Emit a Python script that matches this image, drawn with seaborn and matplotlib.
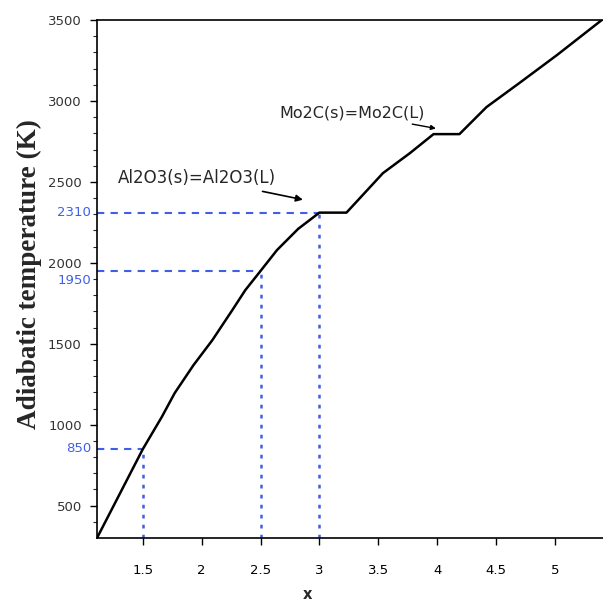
import matplotlib
matplotlib.use("Agg")
import matplotlib.pyplot as plt
import matplotlib.transforms as mtransforms
import seaborn as sns
import pandas as pd

# curve (x, adiabatic temperature in K)
x_vals = [1.11, 1.5, 1.66, 1.77, 1.93, 2.09, 2.26, 2.37, 2.5, 2.64, 2.82, 3.0,
          3.23, 3.54, 3.77, 3.97, 4.19, 4.42, 4.70, 5.02, 5.40]
temp_vals = [300, 850, 1047, 1195, 1368, 1522, 1708, 1831, 1950, 2079, 2210, 2310,
             2310, 2554, 2678, 2795, 2795, 2962, 3111, 3284, 3500]

# marked points with guide lines
mark_x = [1.5, 2.5, 3.0]
mark_t = [850, 1950, 2310]
mark_labels = ["850", "1950", "2310"]

x_ticks = [1.5, 2, 2.5, 3, 3.5, 4, 4.5, 5]
x_ticklabels = ["1.5", "2", "2.5", "3", "3.5", "4", "4.5", "5"]
y_ticks = [500, 1000, 1500, 2000, 2500, 3000, 3500]

BLUE = "#3f5fe6"

sns.set_style("ticks")
plt.rcParams["font.family"] = ["DejaVu Sans"]

fig = plt.figure(figsize=(6.03, 6.05), dpi=100)
ax = fig.add_axes([97 / 603, 1 - 538 / 605, 506 / 603, 518 / 605])

df = pd.DataFrame({"x": x_vals, "T": temp_vals})
sns.lineplot(data=df, x="x", y="T", color="black", linewidth=1.8,
             estimator=None, sort=False, ax=ax)

ax.set_xlim(1.11, 5.41)
ax.set_ylim(300, 3500)

# blue guide lines
for mx, mt in zip(mark_x, mark_t):
    ax.plot([1.11, mx], [mt, mt], color=BLUE, linewidth=1.5,
            linestyle=(0, (3.5, 3)), zorder=1)
    ax.plot([mx, mx], [300, mt], color=BLUE, linewidth=1.8,
            linestyle=(0, (1.5, 2.5)), zorder=1)

trans = mtransforms.blended_transform_factory(ax.transAxes, ax.transData)
offsets = {"850": 0, "1950": -60, "2310": 0}
for mt, lab in zip(mark_t, mark_labels):
    ax.text(-0.012, mt + offsets[lab], lab, transform=trans, ha="right",
            va="center", color=BLUE, fontsize=9.5)

ax.set_xticks(x_ticks)
ax.set_xticklabels(x_ticklabels)
ax.set_yticks(y_ticks)
ax.set_yticks(range(400, 3500, 100), minor=True)
ax.tick_params(axis="x", direction="out", length=5, width=1, pad=14,
               labelsize=9.5, colors="black")
ax.tick_params(axis="y", direction="out", length=5, width=1, pad=6,
               labelsize=9.5, colors="black")
ax.tick_params(axis="y", which="minor", direction="out", length=3, width=0.8)
for lab in ax.get_yticklabels():
    lab.set_color("#333333")

for side in ["left", "bottom", "top"]:
    ax.spines[side].set_linewidth(1.2)
    ax.spines[side].set_color("black")
ax.spines["right"].set_visible(False)

ax.set_xlabel("x", fontsize=10.5, fontweight="bold")
ax.xaxis.set_label_coords(0.415, -0.095)
ax.set_ylabel("Adiabatic temperature (K)", fontsize=19.5, fontweight="bold",
              family=["Liberation Serif"])
ax.yaxis.set_label_coords(-0.108, 0.51)

# phase change annotations
ax.annotate("Al2O3(s)=Al2O3(L)", xy=(2.86, 2390), xytext=(1.29, 2524),
            fontsize=12, va="center", ha="left",
            arrowprops=dict(arrowstyle="-|>", color="black", lw=1.2,
                            shrinkA=4, shrinkB=0, mutation_scale=10))
ax.annotate("Mo2C(s)=Mo2C(L)", xy=(3.99, 2830), xytext=(2.66, 2925),
            fontsize=11.5, va="center", ha="left",
            arrowprops=dict(arrowstyle="-|>", color="black", lw=1.0,
                            shrinkA=1, shrinkB=0, mutation_scale=7))

fig.savefig("out.png", dpi=100)
